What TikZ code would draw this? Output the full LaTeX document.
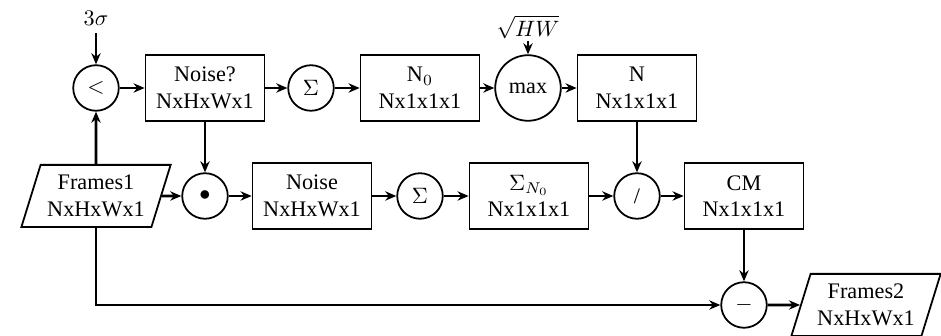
\documentclass[tikz,border=0pt]{standalone}
\usepackage{fontspec}
\setmainfont{Liberation Serif}
\usepackage{tikz}
\usetikzlibrary{shapes.geometric, arrows.meta, positioning}

\begin{document}
\begin{tikzpicture}[
  x=0.45pt, y=-0.45pt,
  every node/.style={font=\normalsize},
  block/.style={rectangle, draw, line width=0.8pt, minimum width=53.5pt, minimum height=29.7pt, align=center, inner sep=1pt},
  op/.style={circle, draw, line width=0.8pt, minimum size=20.5pt, inner sep=0pt},
  bigop/.style={op, minimum size=29.5pt},
  data/.style={trapezium, trapezium left angle=69, trapezium right angle=111, trapezium stretches=true, draw, line width=0.8pt, minimum width=67.5pt, minimum height=28pt, align=center, inner sep=1pt},
  arrow/.style={-{Stealth[length=5pt, width=4.2pt]}, line width=1.2pt},
]
\useasboundingbox (0,0) rectangle (941,336);

% top row - noise mask and count
\node (sig) at (96,18) {$3\sigma$};
\node[op] (lt) at (96,88) {$<$};
\node[block] (noiseq) at (205,88) {Noise?\\NxHxWx1};
\node[op] (sumq) at (311,88) {$\Sigma$};
\node[block] (nzero) at (420,88) {N$_0$\\Nx1x1x1};
\node[inner sep=1pt] (sqhw) at (528,27) {$\sqrt{HW}$};
\node[bigop] (mx) at (528,88) {max};
\node[block] (nmax) at (637,88) {N\\Nx1x1x1};

% middle row - masked frames and mean
\node[data] (fr1) at (96,196) {Frames1\\NxHxWx1};
\node[op] (dot) at (205,196) {$\bullet$};
\node[block] (noise) at (312,196) {Noise\\NxHxWx1};
\node[op] (sumn) at (420,196) {$\Sigma$};
\node[block] (sigma) at (529,196) {$\Sigma_{N_0}$\\Nx1x1x1};
\node[op] (dv) at (637,196) {/};
\node[block] (cm) at (744,196) {CM\\Nx1x1x1};

% bottom row - output
\node[op] (minus) at (744,305) {$-$};
\node[data] (fr2) at (866,305) {Frames2\\NxHxWx1};

% arrows
\draw[arrow] (sig) -- (lt);
\draw[arrow] (fr1.north) -- (lt.south);
\draw[arrow] (lt) -- (noiseq);
\draw[arrow] (noiseq) -- (sumq);
\draw[arrow] (sumq) -- (nzero);
\draw[arrow] (nzero) -- (mx);
\draw[arrow] (sqhw) -- (mx);
\draw[arrow] (mx) -- (nmax);
\draw[arrow] (noiseq.south) -- (dot.north);
\draw[arrow] (fr1) -- (dot);
\draw[arrow] (dot) -- (noise);
\draw[arrow] (noise) -- (sumn);
\draw[arrow] (sumn) -- (sigma);
\draw[arrow] (sigma) -- (dv);
\draw[arrow] (nmax.south) -- (dv.north);
\draw[arrow] (dv) -- (cm);
\draw[arrow] (cm.south) -- (minus.north);
\draw[arrow] (fr1.south) |- (minus.west);
\draw[arrow] (minus) -- (fr2);

\end{tikzpicture}
\end{document}
